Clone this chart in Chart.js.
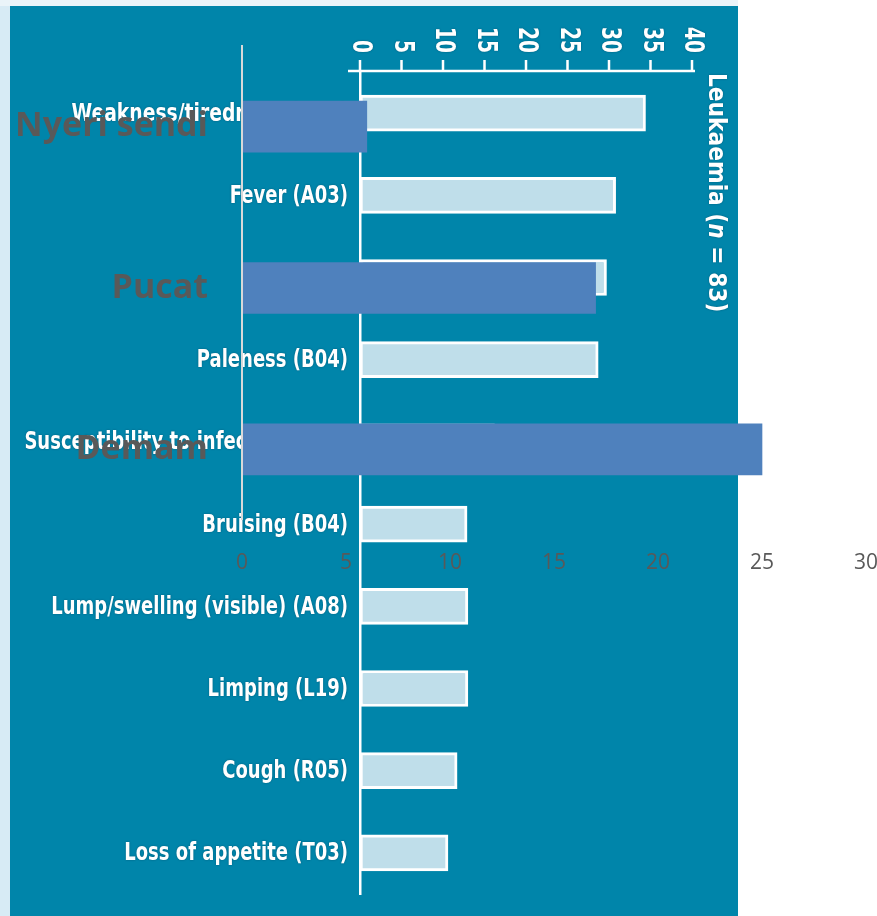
<!DOCTYPE html>
<html>
<head>
<meta charset="utf-8">
<script src="https://cdn.jsdelivr.net/npm/chart.js@4.4.1/dist/chart.umd.min.js"></script>
<style>
  html, body { margin: 0; padding: 0; }
  body { width: 877px; height: 916px; overflow: hidden; background: #fff; position: relative; }
  #strip { position: absolute; left: 0; top: 0; width: 13px; height: 916px; background: #d7ebf5; }
  #band { position: absolute; left: 0; top: 0; width: 738px; height: 6px; background: #eaf4f9; }
  #panel { position: absolute; left: 10px; top: 6px; width: 728px; height: 910px; background: #0085aa; }
  #bg { position: absolute; left: 0; top: 0; }
  #fg { position: absolute; left: 0; top: 0; }
</style>
</head>
<body>
<div id="strip"></div>
<div id="band"></div>
<div id="panel"><canvas id="bg" width="728" height="910"></canvas></div>
<canvas id="fg" width="877" height="916"></canvas>
<script>
// background figure (leukaemia symptoms)
const bgCategories = [
    'Weakness/tiredness (A04)',
    'Fever (A03)',
    'Pain (A01)',
    'Paleness (B04)',
    'Susceptibility to infection (A99)',
    'Bruising (B04)',
    'Lump/swelling (visible) (A08)',
    'Limping (L19)',
    'Cough (R05)',
    'Loss of appetite (T03)'
];
const bgValues = [34.4, 30.8, 29.7, 28.7, 16.2, 12.9, 13.0, 13.0, 11.7, 10.6];
const bgTicks = [0, 5, 10, 15, 20, 25, 30, 35, 40];

// overlay chart
const fgCategories = ['Nyeri sendi', 'Pucat', 'Demam'];
const fgValues = [6, 17, 25];

const bgDecor = {
    id: 'bgDecor',
    afterDraw(chart) {
        const { ctx, chartArea: a, scales: { x, y } } = chart;
        const axisY = a.top - 1;
        ctx.save();
        ctx.strokeStyle = '#fff';
        ctx.fillStyle = '#fff';
        ctx.lineWidth = 2.5;
        // top axis line + ticks
        ctx.beginPath();
        ctx.moveTo(a.left - 12, axisY);
        ctx.lineTo(a.right + 3, axisY);
        bgTicks.forEach(t => {
            const px = x.getPixelForValue(t);
            ctx.moveTo(px, axisY);
            ctx.lineTo(px, axisY - 11);
        });
        ctx.stroke();

        ctx.shadowColor = 'rgba(0,40,60,0.45)';
        ctx.shadowBlur = 2;
        // rotated tick labels
        ctx.font = 'bold 26px "DejaVu Sans"';
        ctx.textAlign = 'right';
        ctx.textBaseline = 'middle';
        bgTicks.forEach(t => {
            ctx.save();
            ctx.translate(x.getPixelForValue(t), axisY - 18);
            ctx.rotate(Math.PI / 2);
            ctx.scale(0.72, 1);
            ctx.fillText(String(t), 0, 0);
            ctx.restore();
        });

        // category labels
        ctx.font = 'bold 25px "DejaVu Sans"';
        bgCategories.forEach((c, i) => {
            ctx.save();
            ctx.translate(a.left - 12, y.getPixelForValue(i));
            ctx.scale(i === 0 ? 0.75 : 0.72, 1);
            ctx.fillText(c, 0, 1);
            ctx.restore();
        });

        // series title
        ctx.save();
        ctx.translate(a.right + 23, a.top + 1);
        ctx.rotate(Math.PI / 2);
        ctx.scale(0.87, 1);
        ctx.textAlign = 'left';
        let cx = 0;
        const parts = [['Leukaemia (', 'bold'], ['n', 'italic bold'], [' = 83)', 'bold']];
        parts.forEach(([txt, st]) => {
            ctx.font = st + ' 25px "DejaVu Sans"';
            ctx.fillText(txt, cx, 0);
            cx += ctx.measureText(txt).width;
        });
        ctx.restore();
        ctx.restore();
    }
};

// overlay value axis line (a little shorter than the plot area)
const fgAxisLine = {
    id: 'fgAxisLine',
    afterDraw(chart) {
        const { ctx, chartArea: a } = chart;
        ctx.save();
        ctx.strokeStyle = '#d9d9d9';
        ctx.lineWidth = 2;
        ctx.beginPath();
        ctx.moveTo(a.left, a.top - 1);
        ctx.lineTo(a.left, a.bottom - 10);
        ctx.stroke();
        ctx.restore();
    }
};

new Chart(document.getElementById('bg'), {
    type: 'bar',
    data: {
        labels: bgCategories,
        datasets: [{
            data: bgValues,
            backgroundColor: '#bfdeea',
            borderColor: '#ffffff',
            borderWidth: 3,
            borderSkipped: false,
            barThickness: 36
        }]
    },
    options: {
        indexAxis: 'y',
        responsive: false,
        animation: false,
        layout: { padding: { right: 46, bottom: 22 } },
        plugins: { legend: { display: false }, tooltip: { enabled: false } },
        scales: {
            x: {
                type: 'linear', position: 'top', min: 0, max: 40,
                grid: { display: false }, border: { display: false },
                ticks: { display: false },
                afterFit: s => { s.height = 66; }
            },
            y: {
                grid: { display: false },
                border: { color: '#ffffff', width: 2.5 },
                ticks: { display: false },
                afterFit: s => { s.width = 350; }
            }
        }
    },
    plugins: [bgDecor]
});

new Chart(document.getElementById('fg'), {
    type: 'bar',
    data: {
        labels: fgCategories,
        datasets: [{
            data: fgValues,
            backgroundColor: '#4f81bd',
            borderWidth: 0,
            barThickness: 51
        }]
    },
    options: {
        indexAxis: 'y',
        responsive: false,
        animation: false,
        layout: { padding: { top: 46, right: 11 } },
        plugins: { legend: { display: false }, tooltip: { enabled: false } },
        scales: {
            x: {
                min: 0, max: 30,
                grid: { display: false }, border: { display: false },
                ticks: { stepSize: 5, color: '#595959', padding: 12, font: { family: 'Open Sans', size: 21 } },
                afterFit: s => { s.height = 386; s.paddingLeft = 0; s.paddingRight = 11; }
            },
            y: {
                grid: { display: false },
                border: { display: false },
                ticks: { color: '#595959', padding: 26, font: { family: 'Open Sans', size: 34, weight: 'bold' } },
                afterFit: s => { s.width = 242; s.paddingTop = 0; s.paddingBottom = 0; }
            }
        }
    },
    plugins: [fgAxisLine]
});
</script>
</body>
</html>
